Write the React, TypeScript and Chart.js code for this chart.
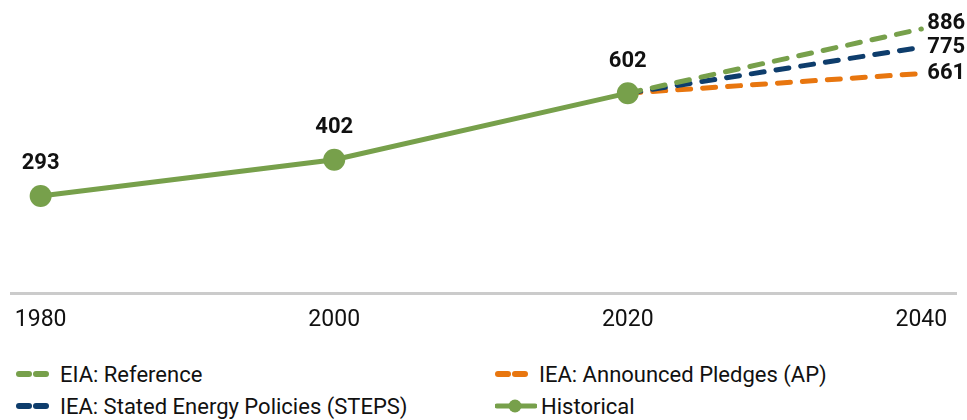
import React, { useEffect, useRef } from 'react';
import { Chart, registerables } from 'chart.js';

Chart.register(...registerables);

// ---- data ----
const tickYears = [1980, 2000, 2020, 2040];
const historicalYears = [1980, 2000, 2020];
const historicalValues = [293, 402, 602];
const projectionYears = [2020, 2040];
// plotted levels as drawn in the picture
const eiaReference = [602, 795];
const ieaSteps = [602, 740];
const ieaAnnounced = [602, 661];
// values printed at the end of each projection
const eiaReferenceLabel = '886';
const ieaStepsLabel = '775';
const ieaAnnouncedLabel = '661';

const seriesNames = [
  'EIA: Reference',
  'IEA: Stated Energy Policies (STEPS)',
  'IEA: Announced Pledges (AP)',
  'Historical',
];

const GREEN = '#77A04B';
const BLUE = '#0E3D6C';
const ORANGE = '#E8760F';

const toPoints = (xs: number[], ys: number[]) => xs.map((x, i) => ({ x, y: ys[i] }));

const labelPlugin = {
  id: 'valueLabels',
  afterDatasetsDraw(chart: any) {
    const ctx = chart.ctx;
    ctx.save();
    ctx.font = '700 22px Roboto';
    ctx.fillStyle = '#111111';
    ctx.textBaseline = 'middle';
    const hist = chart.getDatasetMeta(3);
    ctx.textAlign = 'center';
    hist.data.forEach((pt: any, i: number) => {
      ctx.fillText(String(historicalValues[i]), pt.x, pt.y - 32);
    });
    const ends = [eiaReferenceLabel, ieaStepsLabel, ieaAnnouncedLabel];
    ctx.textAlign = 'left';
    [0, 1, 2].forEach((di) => {
      const meta = chart.getDatasetMeta(di);
      const last = meta.data[meta.data.length - 1];
      ctx.fillText(ends[di], last.x + 6, last.y - (di === 0 ? 5 : 0));
    });
    ctx.restore();
  },
};

function DashSymbol({ color }: { color: string }) {
  return (
    <svg width="36" height="12" style={{ position: 'absolute', left: 0, top: 5 }}>
      <line x1="20" y1="6" x2="30" y2="6" stroke={color} strokeWidth="6" strokeLinecap="round" />
      <line x1="3" y1="6" x2="13" y2="6" stroke={color} strokeWidth="6" strokeLinecap="round" />
    </svg>
  );
}

function HistSymbol({ color }: { color: string }) {
  return (
    <svg width="42" height="14" style={{ position: 'absolute', left: 0, top: 4 }}>
      <line x1="2" y1="7" x2="40" y2="7" stroke={color} strokeWidth="5" strokeLinecap="round" />
      <circle cx="20" cy="7" r="6.5" fill={color} />
    </svg>
  );
}

export default function App() {
  const canvasRef = useRef<HTMLCanvasElement | null>(null);

  useEffect(() => {
    if (!canvasRef.current) return;
    const chart = new Chart(canvasRef.current, {
      type: 'line',
      data: {
        datasets: [
          {
            label: seriesNames[0],
            data: toPoints(projectionYears, eiaReference),
            borderColor: GREEN,
            borderWidth: 5,
            borderDash: [13, 12],
            borderCapStyle: 'round',
            pointRadius: 0,
            order: 1,
          },
          {
            label: seriesNames[1],
            data: toPoints(projectionYears, ieaSteps),
            borderColor: BLUE,
            borderWidth: 5,
            borderDash: [13, 12],
            borderCapStyle: 'round',
            pointRadius: 0,
            order: 2,
          },
          {
            label: seriesNames[2],
            data: toPoints(projectionYears, ieaAnnounced),
            borderColor: ORANGE,
            borderWidth: 5,
            borderDash: [13, 12],
            borderCapStyle: 'round',
            pointRadius: 0,
            order: 3,
          },
          {
            label: seriesNames[3],
            data: toPoints(historicalYears, historicalValues),
            borderColor: GREEN,
            backgroundColor: GREEN,
            borderWidth: 5,
            pointRadius: 11,
            pointBorderWidth: 0,
            pointBackgroundColor: GREEN,
            order: 0,
          },
        ],
      },
      options: {
        animation: false,
        responsive: true,
        maintainAspectRatio: false,
        layout: { padding: { left: 10, right: 2, top: 0, bottom: 0 } },
        plugins: { legend: { display: false }, tooltip: { enabled: false } },
        scales: {
          x: {
            type: 'linear',
            min: 1977.98,
            max: 2042.36,
            afterBuildTicks: (scale: any) => {
              scale.ticks = tickYears.map((v) => ({ value: v }));
            },
            grid: { display: false, drawTicks: false },
            border: { display: true, color: '#CBCBCB', width: 3 },
            ticks: {
              padding: 13,
              color: '#111111',
              font: { family: 'Roboto', size: 23 },
              callback: (v: any) => String(v),
              maxRotation: 0,
            },
          },
          y: {
            display: false,
            min: 0,
            max: 849,
          },
        },
      },
      plugins: [labelPlugin],
    } as any);
    return () => chart.destroy();
  }, []);

  const legendItems = [
    { name: seriesNames[0], color: GREEN, kind: 'dash', left: 16, top: 363 },
    { name: seriesNames[2], color: ORANGE, kind: 'dash', left: 495, top: 363 },
    { name: seriesNames[1], color: BLUE, kind: 'dash', left: 16, top: 395 },
    { name: seriesNames[3], color: GREEN, kind: 'hist', left: 495, top: 395 },
  ];

  return (
    <div style={{ position: 'fixed', left: 0, top: 0, width: 967, height: 420, background: '#fff' }}>
      <div style={{ position: 'absolute', left: 0, top: 0, width: 967, height: 347 }}>
        <canvas ref={canvasRef} />
      </div>
      {legendItems.map((it) => (
        <div
          key={it.name}
          style={{
            position: 'absolute',
            left: it.left,
            top: it.top,
            height: 24,
            fontFamily: 'Roboto',
            fontSize: 22,
            lineHeight: '24px',
            color: '#111',
            whiteSpace: 'nowrap',
          }}
        >
          {it.kind === 'dash' ? <DashSymbol color={it.color} /> : <HistSymbol color={it.color} />}
          <span style={{ marginLeft: it.kind === 'dash' ? 44 : 46 }}>{it.name}</span>
        </div>
      ))}
    </div>
  );
}
